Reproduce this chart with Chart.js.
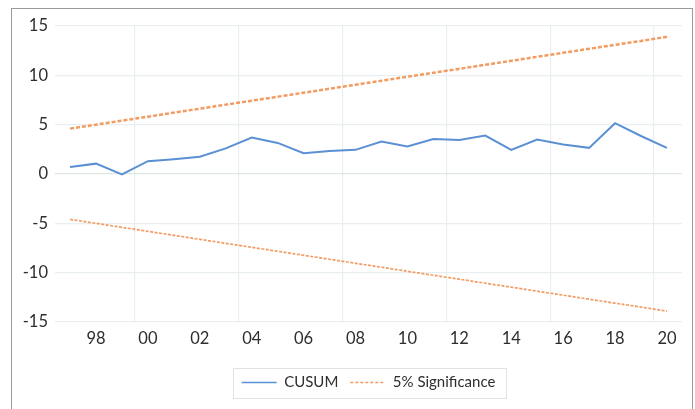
<!DOCTYPE html>
<html>
<head>
<meta charset="utf-8">
<script src="https://cdn.jsdelivr.net/npm/chart.js@4.4.1/dist/chart.umd.min.js"></script>
<style>
  html, body { margin: 0; padding: 0; background: #ffffff; }
  #wrap { position: relative; width: 695px; height: 409px; }
  #frame { position: absolute; left: 11px; top: 8px; width: 682px; height: 410px; border: 1.6px solid #9a9a9a; box-sizing: border-box; pointer-events: none; }
  canvas { position: absolute; left: 0; top: 0; }
</style>
</head>
<body>
<div id="wrap">
  <canvas id="c" width="695" height="409"></canvas>
  <div id="frame"></div>
</div>
<script>
const years = [1997,1998,1999,2000,2001,2002,2003,2004,2005,2006,2007,2008,2009,2010,2011,2012,2013,2014,2015,2016,2017,2018,2019,2020];
const cusum = [0.70,1.05,-0.05,1.30,1.50,1.75,2.60,3.70,3.15,2.10,2.32,2.45,3.30,2.80,3.55,3.45,3.90,2.45,3.50,3.00,2.65,5.15,3.85,2.65];
const upper5 = [4.60,5.00,5.41,5.81,6.22,6.62,7.03,7.43,7.83,8.24,8.64,9.05,9.45,9.86,10.26,10.66,11.07,11.47,11.88,12.28,12.69,13.09,13.49,13.90];
const lower5 = [-4.60,-5.00,-5.41,-5.81,-6.22,-6.62,-7.03,-7.43,-7.83,-8.24,-8.64,-9.05,-9.45,-9.86,-10.26,-10.66,-11.07,-11.47,-11.88,-12.28,-12.69,-13.09,-13.49,-13.90];
const xLabelYears = [1998,2000,2002,2004,2006,2008,2010,2012,2014,2016,2018,2020];
const xGridYears = [1999.5,2003.5,2007.5,2011.5,2015.5,2019.5];
const yTicks = [-15,-10,-5,0,5,10,15];
const seriesNames = ['CUSUM','5% Significance'];

const BLUE = '#5b90d4';
const ORANGE = '#f29c62';
const GRID = '#e9eef0';
const TEXT = '#2e2e2e';

const toXY = (arr) => arr.map((v, i) => ({x: years[i], y: v}));

const legendBoxPlugin = {
  id: 'legendBox',
  afterDraw(chart) {
    const lg = chart.legend;
    if (!lg || !lg.legendHitBoxes || !lg.legendHitBoxes.length) return;
    const hb = lg.legendHitBoxes;
    const first = hb[0], last = hb[hb.length - 1];
    const left = first.left - 9;
    const right = last.left + last.width + 10;
    const cy = first.top + first.height / 2;
    const ctx = chart.ctx;
    ctx.save();
    ctx.strokeStyle = '#e2e2e2';
    ctx.lineWidth = 1;
    ctx.strokeRect(Math.round(left) + 0.5, Math.round(cy - 15) + 0.5, Math.round(right - left), 30);
    ctx.restore();
  }
};

new Chart(document.getElementById('c'), {
  type: 'line',
  data: {
    datasets: [
      { label: seriesNames[0], data: toXY(cusum), borderColor: BLUE, borderWidth: 2, pointRadius: 0, tension: 0, fill: false },
      { label: seriesNames[1], data: toXY(upper5), borderColor: ORANGE, borderWidth: 2.5, borderDash: [4, 2], pointRadius: 0, tension: 0, fill: false },
      { label: seriesNames[1] + ' ', data: toXY(lower5), borderColor: ORANGE, borderWidth: 1.7, borderDash: [3, 1.5], pointRadius: 0, tension: 0, fill: false }
    ]
  },
  options: {
    responsive: false,
    animation: false,
    events: [],
    layout: { padding: { left: 0, right: 13, top: 26, bottom: 9 } },
    scales: {
      x: {
        type: 'linear',
        min: 1996.42,
        max: 2020.58,
        afterBuildTicks: (axis) => {
          axis.ticks = xLabelYears.concat(xGridYears).sort((a, b) => a - b).map(v => ({ value: v }));
        },
        afterFit: (axis) => { axis.height = 41; },
        border: { display: false },
        grid: {
          drawTicks: false,
          color: (ctx) => (ctx.tick && Number.isInteger(ctx.tick.value)) ? 'rgba(0,0,0,0)' : GRID,
          lineWidth: 1.2
        },
        ticks: {
          autoSkip: false,
          maxRotation: 0,
          padding: 7,
          color: TEXT,
          font: { family: 'Lato', size: 16.5 },
          callback: (v) => Number.isInteger(v) ? String(v).slice(2) : ''
        }
      },
      y: {
        min: -15,
        max: 15,
        afterBuildTicks: (axis) => { axis.ticks = yTicks.map(v => ({ value: v })); },
        afterFit: (axis) => { axis.width = 55; },
        border: { display: false },
        grid: { drawTicks: false, color: (ctx) => (ctx.tick && ctx.tick.value === 0) ? '#dfe6e6' : GRID, lineWidth: 1.2 },
        ticks: { padding: 7, color: TEXT, font: { family: 'Lato', size: 16.5 } }
      }
    },
    plugins: {
      tooltip: { enabled: false },
      legend: {
        position: 'bottom',
        fullSize: false,
        labels: {
          usePointStyle: true,
          pointStyleWidth: 35,
          boxHeight: 14,
          padding: 12,
          color: TEXT,
          font: { family: 'Lato', size: 15 },
          generateLabels: () => [
            { text: seriesNames[0], pointStyle: 'line', strokeStyle: BLUE, fillStyle: BLUE, lineWidth: 1.5, lineDash: [], fontColor: TEXT, datasetIndex: 0 },
            { text: seriesNames[1], pointStyle: 'line', strokeStyle: ORANGE, fillStyle: ORANGE, lineWidth: 1.5, lineDash: [3, 2], fontColor: TEXT, datasetIndex: 1 }
          ]
        }
      }
    }
  },
  plugins: [legendBoxPlugin]
});
</script>
</body>
</html>
